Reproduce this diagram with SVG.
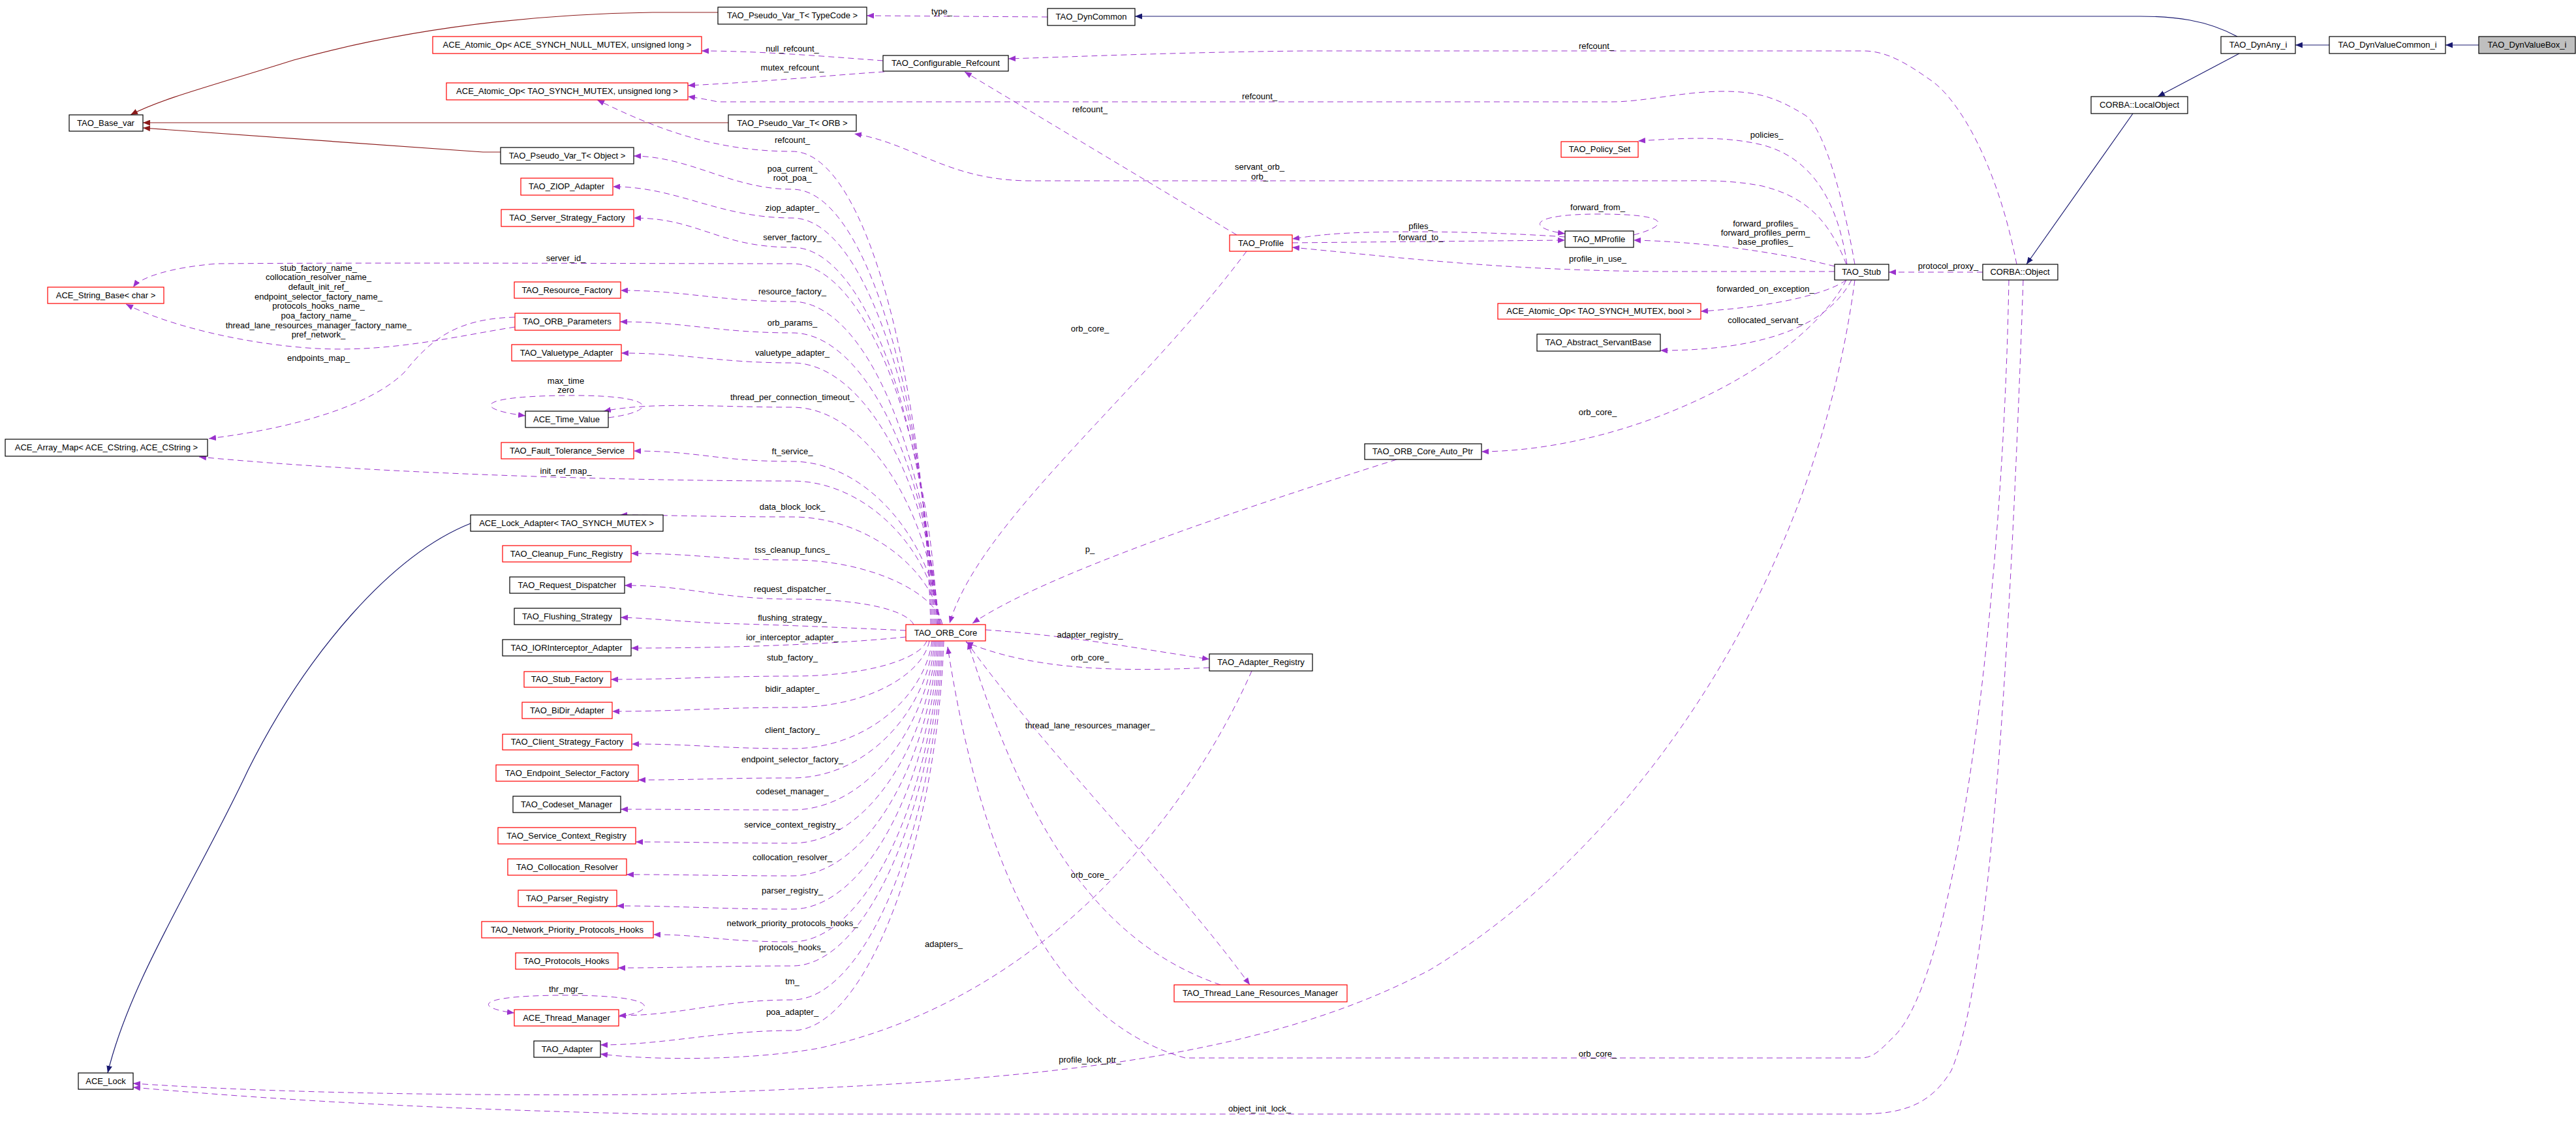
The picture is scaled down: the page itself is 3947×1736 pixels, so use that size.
<svg xmlns="http://www.w3.org/2000/svg" width="3947" height="1736" viewBox="0 0 3947 1736">
<style>
text{font-family:"Liberation Sans",Arial,sans-serif;font-size:13px;fill:#000}
.n text{text-anchor:middle}
.l{text-anchor:middle}
.b{fill:#fff;stroke:#000;stroke-width:1.2}
.r{fill:#fff;stroke:#f00;stroke-width:1.2}
.g{fill:#bfbfbf;stroke:#000;stroke-width:1.2}
.u{fill:none;stroke:#9a32cd;stroke-width:1;stroke-dasharray:9,6;marker-end:url(#ap)}
.ir{fill:none;stroke:#8b1a1a;stroke-width:1.2;marker-end:url(#ar)}
.ib{fill:none;stroke:#191970;stroke-width:1.2;marker-end:url(#ab)}
</style>
<defs>
<marker id="ap" viewBox="0 0 10 8" refX="10" refY="4" markerWidth="11" markerHeight="9" markerUnits="userSpaceOnUse" orient="auto"><path d="M0,0L10,4L0,8z" fill="#9a32cd"/></marker>
<marker id="ar" viewBox="0 0 10 8" refX="10" refY="4" markerWidth="11" markerHeight="9" markerUnits="userSpaceOnUse" orient="auto"><path d="M0,0L10,4L0,8z" fill="#8b1a1a"/></marker>
<marker id="ab" viewBox="0 0 10 8" refX="10" refY="4" markerWidth="11" markerHeight="9" markerUnits="userSpaceOnUse" orient="auto"><path d="M0,0L10,4L0,8z" fill="#191970"/></marker>
</defs>
<rect width="3947" height="1736" fill="#fff"/>
<g id="connectors">
<path class="ir" d="M1100,19 L1000,19 C800,22 620,45 450,92 C330,130 250,150 200,176"/>
<path class="ir" d="M1116,188 L219,188"/>
<path class="ir" d="M767,233 L740,233 L219,196"/>
<path class="ib" d="M3428,56 C3380,30 3330,25 3280,25 L1739,25"/>
<path class="ib" d="M3569,69 L3517,69"/>
<path class="ib" d="M3798,69 L3747,69"/>
<path class="ib" d="M3431,82 L3306,148"/>
<path class="ib" d="M3268,174 L3105,405"/>
<path class="ib" d="M721,802 C600,850 470,1000 380,1180 C300,1350 200,1500 165,1644"/>
<path class="u" d="M1605,26 L1328,24"/>
<path class="u" d="M1353,93 C1260,86 1160,78 1075,78"/>
<path class="u" d="M1355,110 C1300,113 1180,125 1054,131"/>
<path class="u" d="M3090,405 C3060,250 3000,150 2957,122 C2920,96 2890,78 2855,78 L2000,78 C1800,80 1620,88 1545,90"/>
<path class="u" d="M2842,405 C2820,280 2790,190 2765,176 C2720,148 2690,140 2640,140 C2580,140 2520,156 2470,156 L1100,156 C1080,152 1070,150 1054,148"/>
<path class="u" d="M1895,360 L1478,110"/>
<path class="u" d="M2829,405 C2800,330 2760,300 2700,285 C2650,275 2600,277 2574,277 L1574,277 C1450,275 1400,220 1309,205"/>
<path class="u" d="M2830,405 C2815,300 2770,240 2700,222 C2650,210 2600,210 2510,216"/>
<path class="u" d="M2811,416 L2540,416 C2300,414 2150,395 1980,379"/>
<path class="u" d="M2398,363 C2300,356 2150,352 2050,358 C2010,361 1995,364 1980,366"/>
<path class="u" d="M1980,372 L2398,368"/>
<path class="u" d="M2503,360 C2560,345 2560,328 2450,328 C2340,328 2340,350 2398,358"/>
<path class="u" d="M2811,408 C2720,385 2600,370 2503,368"/>
<path class="u" d="M2829,429 C2800,450 2720,470 2606,477"/>
<path class="u" d="M2837,429 C2800,500 2700,537 2544,537"/>
<path class="u" d="M3038,417 L2894,417"/>
<path class="u" d="M2829,429 C2760,560 2500,690 2270,692"/>
<path class="u" d="M2140,704 C1900,780 1600,880 1490,955"/>
<path class="u" d="M1910,385 C1750,600 1500,800 1455,955"/>
<path class="u" d="M1510,965 C1650,975 1750,995 1853,1010"/>
<path class="u" d="M1853,1023 C1700,1030 1580,1025 1480,984"/>
<path class="u" d="M1480,982 C1600,1150 1800,1350 1915,1509"/>
<path class="u" d="M1870,1509 C1700,1450 1580,1300 1483,984"/>
<path class="u" d="M1918,1028 C1820,1250 1600,1530 1255,1606 C1150,1625 1000,1625 920,1615"/>
<path class="u" d="M3078,429 C3070,900 3000,1500 2900,1590 C2880,1610 2870,1621 2851,1621 L1816,1621 C1600,1560 1500,1300 1452,991"/>
<path class="u" d="M2842,429 C2780,900 2500,1300 2191,1486 C1900,1640 1500,1660 1000,1677 C600,1680 350,1670 204,1660"/>
<path class="u" d="M3100,429 C3080,1000 3050,1500 2990,1640 C2960,1690 2920,1707 2850,1707 L1000,1707 C700,1700 450,1688 204,1666"/>
<path class="u" d="M789,486 C700,488 660,520 620,570 C560,630 420,660 320,672"/>
<path class="u" d="M789,501 C700,515 600,540 485,534 C380,528 260,500 193,466"/>
<path class="u" d="M932,640 C1010,630 1010,605 870,606 C720,607 730,628 805,637"/>
<path class="u" d="M948,1558 C1010,1548 1010,1525 868,1525 C720,1525 730,1545 788,1552"/>
<path class="u" d="M1426,957 C1416,595 1330,232 1214,232 C1100,232 1010,200 915,153"/>
<path class="u" d="M1428,957 C1418,624 1330,290 1214,290 C1120,290 1060,240 971,239"/>
<path class="u" d="M1430,957 C1420,645 1330,334 1214,334 C1100,334 1039,286 939,286"/>
<path class="u" d="M1432,957 C1422,668 1330,379 1214,379 C1100,379 1071,334 971,334"/>
<path class="u" d="M1436,957 C1426,680 1330,404 1214,404 C1000,404 600,402 332,404 C260,410 215,425 204,440"/>
<path class="u" d="M1434,957 C1424,710 1330,462 1214,462 C1100,462 1051,445 951,445"/>
<path class="u" d="M1436,957 C1426,733 1330,510 1214,510 C1100,510 1050,493 950,493"/>
<path class="u" d="M1438,957 C1428,756 1330,556 1214,556 C1100,556 1052,541 952,541"/>
<path class="u" d="M1438,957 C1428,790 1330,624 1214,624 C1100,624 1000,615 925,630"/>
<path class="u" d="M1440,957 C1430,832 1330,707 1214,707 C1100,707 1071,691 971,691"/>
<path class="u" d="M1440,957 C1430,847 1330,737 1214,737 C1000,737 600,728 305,700"/>
<path class="u" d="M1442,957 C1432,875 1330,792 1214,792 C1100,792 1000,789 950,789"/>
<path class="u" d="M1444,957 C1434,907 1330,858 1214,858 C1100,858 1067,848 967,848"/>
<path class="u" d="M1400,957 C1390,937 1330,918 1214,918 C1100,918 1057,897 957,897"/>
<path class="u" d="M1388,966 C1300,962 1214,958 1100,955 C1040,952 990,947 951,946"/>
<path class="u" d="M1388,976 C1300,985 1150,993 967,993"/>
<path class="u" d="M1420,982 C1410,1009 1330,1036 1214,1036 C1100,1036 1036,1041 936,1041"/>
<path class="u" d="M1424,982 C1414,1033 1330,1084 1214,1084 C1100,1084 1038,1090 938,1090"/>
<path class="u" d="M1428,982 C1418,1064 1330,1147 1214,1147 C1100,1147 1068,1140 968,1140"/>
<path class="u" d="M1430,982 C1420,1087 1330,1192 1214,1192 C1100,1192 1078,1195 978,1195"/>
<path class="u" d="M1432,982 C1422,1111 1330,1241 1214,1241 C1100,1241 1051,1240 951,1240"/>
<path class="u" d="M1434,982 C1424,1137 1330,1292 1214,1292 C1100,1292 1074,1290 974,1290"/>
<path class="u" d="M1436,982 C1426,1162 1330,1342 1214,1342 C1100,1342 1060,1340 960,1340"/>
<path class="u" d="M1438,982 C1428,1187 1330,1393 1214,1393 C1100,1393 1045,1388 945,1388"/>
<path class="u" d="M1440,982 C1430,1212 1330,1443 1214,1443 C1100,1443 1080,1432 1001,1432"/>
<path class="u" d="M1442,982 C1432,1231 1330,1480 1214,1480 C1100,1480 1047,1483 947,1483"/>
<path class="u" d="M1444,982 C1434,1257 1330,1532 1214,1532 C1100,1532 1048,1556 948,1556"/>
<path class="u" d="M1446,982 C1436,1280 1330,1579 1214,1579 C1100,1579 1020,1601 920,1601"/>
</g>
<g class="lbls">
<text class="l" x="1443" y="22">type_</text>
<text class="l" x="1214" y="79">null_refcount_</text>
<text class="l" x="1214" y="108">mutex_refcount_</text>
<text class="l" x="1930" y="152">refcount_</text>
<text class="l" x="1670" y="172">refcount_</text>
<text class="l" x="1214" y="219">refcount_</text>
<text class="l" x="2446" y="75">refcount_</text>
<text class="l" x="1214" y="263">poa_current_</text>
<text class="l" x="1214" y="277">root_poa_</text>
<text class="l" x="1930" y="260">servant_orb_</text>
<text class="l" x="1930" y="275">orb_</text>
<text class="l" x="1214" y="323">ziop_adapter_</text>
<text class="l" x="1214" y="368">server_factory_</text>
<text class="l" x="867" y="400">server_id_</text>
<text class="l" x="488" y="415">stub_factory_name_</text>
<text class="l" x="488" y="429">collocation_resolver_name_</text>
<text class="l" x="488" y="444">default_init_ref_</text>
<text class="l" x="488" y="459">endpoint_selector_factory_name_</text>
<text class="l" x="488" y="473">protocols_hooks_name_</text>
<text class="l" x="488" y="488">poa_factory_name_</text>
<text class="l" x="488" y="503">thread_lane_resources_manager_factory_name_</text>
<text class="l" x="488" y="517">pref_network_</text>
<text class="l" x="1214" y="451">resource_factory_</text>
<text class="l" x="1214" y="499">orb_params_</text>
<text class="l" x="1670" y="508">orb_core_</text>
<text class="l" x="1214" y="545">valuetype_adapter_</text>
<text class="l" x="488" y="553">endpoints_map_</text>
<text class="l" x="867" y="588">max_time</text>
<text class="l" x="867" y="602">zero</text>
<text class="l" x="1214" y="613">thread_per_connection_timeout_</text>
<text class="l" x="1214" y="696">ft_service_</text>
<text class="l" x="867" y="726">init_ref_map_</text>
<text class="l" x="1214" y="781">data_block_lock_</text>
<text class="l" x="1214" y="847">tss_cleanup_funcs_</text>
<text class="l" x="1670" y="846">p_</text>
<text class="l" x="1214" y="907">request_dispatcher_</text>
<text class="l" x="1214" y="951">flushing_strategy_</text>
<text class="l" x="1670" y="977">adapter_registry_</text>
<text class="l" x="1214" y="981">ior_interceptor_adapter_</text>
<text class="l" x="1670" y="1012">orb_core_</text>
<text class="l" x="1214" y="1012">stub_factory_</text>
<text class="l" x="1214" y="1060">bidir_adapter_</text>
<text class="l" x="1670" y="1116">thread_lane_resources_manager_</text>
<text class="l" x="1214" y="1123">client_factory_</text>
<text class="l" x="1214" y="1168">endpoint_selector_factory_</text>
<text class="l" x="1214" y="1217">codeset_manager_</text>
<text class="l" x="1214" y="1268">service_context_registry_</text>
<text class="l" x="1214" y="1318">collocation_resolver_</text>
<text class="l" x="1670" y="1345">orb_core_</text>
<text class="l" x="1214" y="1369">parser_registry_</text>
<text class="l" x="1214" y="1419">network_priority_protocols_hooks_</text>
<text class="l" x="1446" y="1451">adapters_</text>
<text class="l" x="1214" y="1456">protocols_hooks_</text>
<text class="l" x="1214" y="1508">tm_</text>
<text class="l" x="867" y="1520">thr_mgr_</text>
<text class="l" x="1214" y="1555">poa_adapter_</text>
<text class="l" x="1670" y="1628">profile_lock_ptr_</text>
<text class="l" x="2448" y="1619">orb_core_</text>
<text class="l" x="1930" y="1703">object_init_lock_</text>
<text class="l" x="2707" y="211">policies_</text>
<text class="l" x="2448" y="322">forward_from_</text>
<text class="l" x="2177" y="351">pfiles_</text>
<text class="l" x="2177" y="368">forward_to_</text>
<text class="l" x="2705" y="347">forward_profiles_</text>
<text class="l" x="2705" y="361">forward_profiles_perm_</text>
<text class="l" x="2705" y="375">base_profiles_</text>
<text class="l" x="2448" y="401">profile_in_use_</text>
<text class="l" x="2985" y="412">protocol_proxy_</text>
<text class="l" x="2705" y="447">forwarded_on_exception_</text>
<text class="l" x="2705" y="495">collocated_servant_</text>
<text class="l" x="2448" y="636">orb_core_</text>
</g>
<g class="n">
<g id="n1"><rect class="b" x="106" y="176" width="113" height="25"/><text x="162" y="193">TAO_Base_var</text></g>
<g id="n2"><rect class="r" x="663" y="56" width="412" height="26"/><text x="869" y="73">ACE_Atomic_Op&lt; ACE_SYNCH_NULL_MUTEX, unsigned long &gt;</text></g>
<g id="n3"><rect class="r" x="684" y="127" width="370" height="26"/><text x="869" y="144">ACE_Atomic_Op&lt; TAO_SYNCH_MUTEX, unsigned long &gt;</text></g>
<g id="n4"><rect class="b" x="767" y="226" width="204" height="25"/><text x="869" y="243">TAO_Pseudo_Var_T&lt; Object &gt;</text></g>
<g id="n5"><rect class="r" x="798" y="273" width="141" height="26"/><text x="868" y="290">TAO_ZIOP_Adapter</text></g>
<g id="n6"><rect class="r" x="768" y="321" width="203" height="26"/><text x="869" y="338">TAO_Server_Strategy_Factory</text></g>
<g id="n7"><rect class="r" x="73" y="440" width="178" height="25"/><text x="162" y="457">ACE_String_Base&lt; char &gt;</text></g>
<g id="n8"><rect class="r" x="788" y="432" width="163" height="25"/><text x="869" y="449">TAO_Resource_Factory</text></g>
<g id="n9"><rect class="r" x="789" y="480" width="161" height="26"/><text x="869" y="497">TAO_ORB_Parameters</text></g>
<g id="n10"><rect class="r" x="784" y="528" width="168" height="25"/><text x="868" y="545">TAO_Valuetype_Adapter</text></g>
<g id="n11"><rect class="b" x="805" y="630" width="127" height="25"/><text x="868" y="647">ACE_Time_Value</text></g>
<g id="n12"><rect class="b" x="8" y="673" width="310" height="26"/><text x="163" y="690">ACE_Array_Map&lt; ACE_CString, ACE_CString &gt;</text></g>
<g id="n13"><rect class="r" x="768" y="678" width="203" height="25"/><text x="869" y="695">TAO_Fault_Tolerance_Service</text></g>
<g id="n14"><rect class="b" x="721" y="789" width="295" height="25"/><text x="868" y="806">ACE_Lock_Adapter&lt; TAO_SYNCH_MUTEX &gt;</text></g>
<g id="n15"><rect class="r" x="770" y="836" width="197" height="25"/><text x="868" y="853">TAO_Cleanup_Func_Registry</text></g>
<g id="n16"><rect class="b" x="781" y="884" width="176" height="25"/><text x="869" y="901">TAO_Request_Dispatcher</text></g>
<g id="n17"><rect class="b" x="788" y="932" width="163" height="25"/><text x="869" y="949">TAO_Flushing_Strategy</text></g>
<g id="n18"><rect class="b" x="770" y="980" width="197" height="25"/><text x="868" y="997">TAO_IORInterceptor_Adapter</text></g>
<g id="n19"><rect class="r" x="803" y="1029" width="133" height="24"/><text x="869" y="1045">TAO_Stub_Factory</text></g>
<g id="n20"><rect class="r" x="800" y="1076" width="138" height="25"/><text x="869" y="1093">TAO_BiDir_Adapter</text></g>
<g id="n21"><rect class="r" x="770" y="1125" width="198" height="24"/><text x="869" y="1141">TAO_Client_Strategy_Factory</text></g>
<g id="n22"><rect class="r" x="760" y="1172" width="218" height="25"/><text x="869" y="1189">TAO_Endpoint_Selector_Factory</text></g>
<g id="n23"><rect class="b" x="786" y="1220" width="165" height="25"/><text x="868" y="1237">TAO_Codeset_Manager</text></g>
<g id="n24"><rect class="r" x="763" y="1268" width="211" height="25"/><text x="868" y="1285">TAO_Service_Context_Registry</text></g>
<g id="n25"><rect class="r" x="778" y="1316" width="182" height="25"/><text x="869" y="1333">TAO_Collocation_Resolver</text></g>
<g id="n26"><rect class="r" x="794" y="1364" width="151" height="25"/><text x="869" y="1381">TAO_Parser_Registry</text></g>
<g id="n27"><rect class="r" x="738" y="1412" width="263" height="25"/><text x="869" y="1429">TAO_Network_Priority_Protocols_Hooks</text></g>
<g id="n28"><rect class="r" x="790" y="1460" width="157" height="25"/><text x="868" y="1477">TAO_Protocols_Hooks</text></g>
<g id="n29"><rect class="r" x="788" y="1547" width="160" height="25"/><text x="868" y="1564">ACE_Thread_Manager</text></g>
<g id="n30"><rect class="b" x="818" y="1595" width="102" height="25"/><text x="869" y="1612">TAO_Adapter</text></g>
<g id="n31"><rect class="b" x="120" y="1644" width="84" height="25"/><text x="162" y="1661">ACE_Lock</text></g>
<g id="n32"><rect class="b" x="1100" y="11" width="228" height="26"/><text x="1214" y="28">TAO_Pseudo_Var_T&lt; TypeCode &gt;</text></g>
<g id="n33"><rect class="b" x="1605" y="13" width="134" height="26"/><text x="1672" y="30">TAO_DynCommon</text></g>
<g id="n34"><rect class="b" x="1353" y="85" width="192" height="24"/><text x="1449" y="101">TAO_Configurable_Refcount</text></g>
<g id="n35"><rect class="b" x="1116" y="176" width="196" height="25"/><text x="1214" y="193">TAO_Pseudo_Var_T&lt; ORB &gt;</text></g>
<g id="n36"><rect class="r" x="1884" y="360" width="96" height="25"/><text x="1932" y="377">TAO_Profile</text></g>
<g id="n37"><rect class="r" x="1388" y="957" width="122" height="25"/><text x="1449" y="974">TAO_ORB_Core</text></g>
<g id="n38"><rect class="b" x="1853" y="1002" width="158" height="26"/><text x="1932" y="1019">TAO_Adapter_Registry</text></g>
<g id="n39"><rect class="r" x="1799" y="1509" width="265" height="26"/><text x="1931" y="1526">TAO_Thread_Lane_Resources_Manager</text></g>
<g id="n40"><rect class="r" x="2392" y="217" width="118" height="24"/><text x="2451" y="233">TAO_Policy_Set</text></g>
<g id="n41"><rect class="b" x="2398" y="354" width="105" height="25"/><text x="2450" y="371">TAO_MProfile</text></g>
<g id="n42"><rect class="b" x="2811" y="405" width="83" height="24"/><text x="2852" y="421">TAO_Stub</text></g>
<g id="n43"><rect class="r" x="2295" y="465" width="311" height="24"/><text x="2450" y="481">ACE_Atomic_Op&lt; TAO_SYNCH_MUTEX, bool &gt;</text></g>
<g id="n44"><rect class="b" x="2355" y="512" width="189" height="26"/><text x="2449" y="529">TAO_Abstract_ServantBase</text></g>
<g id="n45"><rect class="b" x="2091" y="680" width="179" height="24"/><text x="2180" y="696">TAO_ORB_Core_Auto_Ptr</text></g>
<g id="n46"><rect class="b" x="3403" y="56" width="114" height="26"/><text x="3460" y="73">TAO_DynAny_i</text></g>
<g id="n47"><rect class="b" x="3569" y="56" width="178" height="26"/><text x="3658" y="73">TAO_DynValueCommon_i</text></g>
<g id="n48"><rect class="g" x="3798" y="56" width="148" height="26"/><text x="3872" y="73">TAO_DynValueBox_i</text></g>
<g id="n49"><rect class="b" x="3204" y="148" width="148" height="26"/><text x="3278" y="165">CORBA::LocalObject</text></g>
<g id="n50"><rect class="b" x="3038" y="405" width="115" height="24"/><text x="3095" y="421">CORBA::Object</text></g>
</g>
</svg>
